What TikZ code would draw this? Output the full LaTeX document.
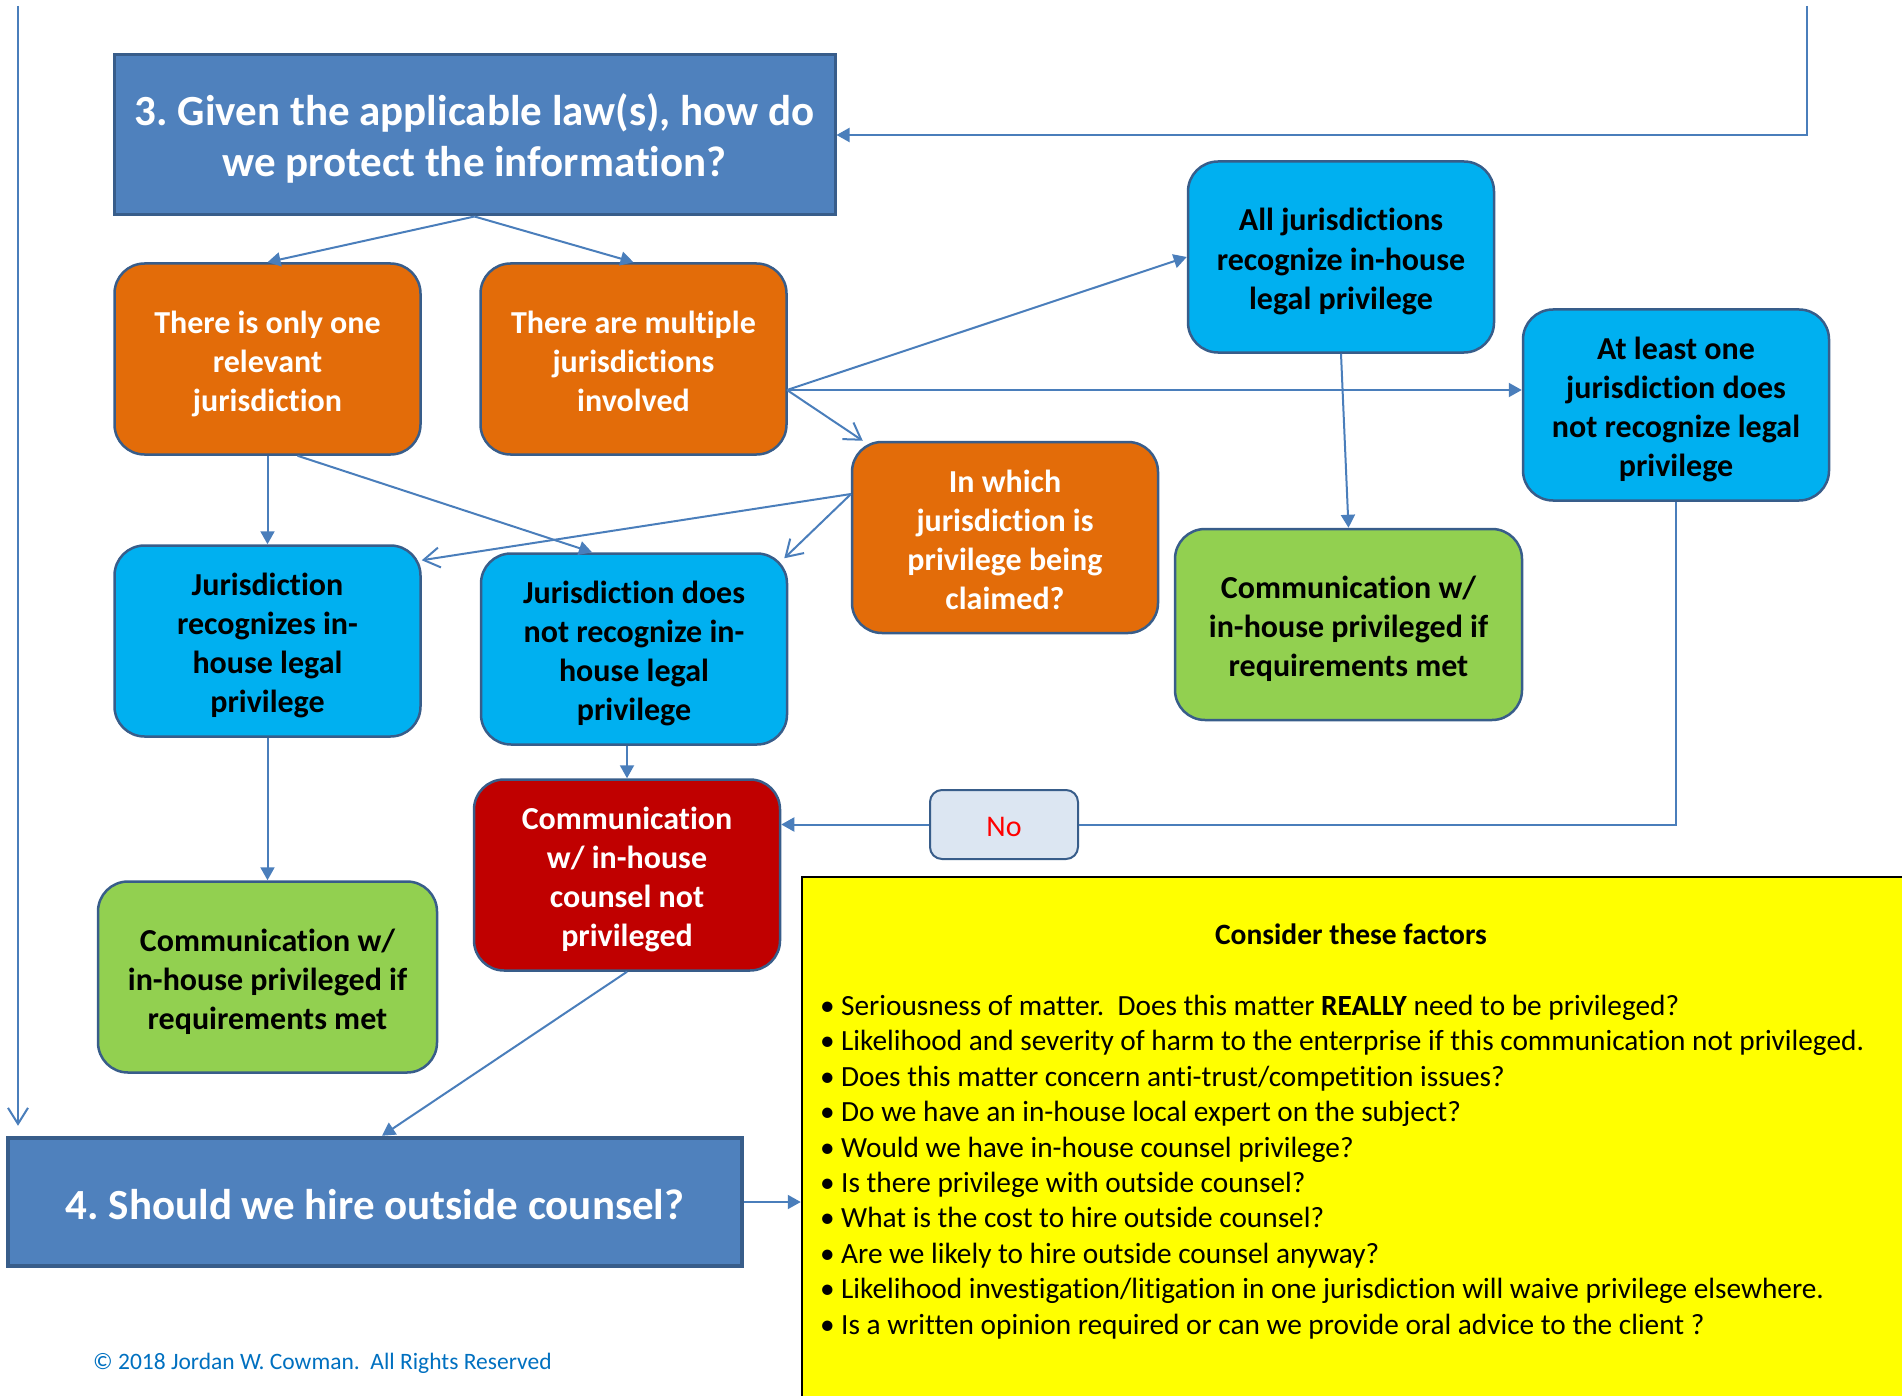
\documentclass[tikz,border=0pt]{standalone}
\usepackage{fontspec}
\setmainfont{Carlito}[Ligatures=NoCommon]
\usetikzlibrary{arrows.meta}
\definecolor{edge}{HTML}{385D8A}
\definecolor{head}{HTML}{4F81BD}
\definecolor{orng}{HTML}{E36C09}
\definecolor{cyn1}{HTML}{00B0F0}
\definecolor{grn1}{HTML}{92D050}
\definecolor{red1}{HTML}{C00000}
\definecolor{nofill}{HTML}{DCE6F2}
\definecolor{yel}{HTML}{FFFF00}
\definecolor{ln}{HTML}{4A7EBB}
\definecolor{cpy}{HTML}{0070C0}
\newcommand{\topst}[1]{\rule{0pt}{#1}}
\newcommand{\botst}[1]{\rule[-#1]{0pt}{#1}}

\begin{document}
\frenchspacing
\begin{tikzpicture}[x=1pt,y=-1pt,
  bx/.style={draw=edge,line width=2.5pt,rounded corners=30pt,minimum width=306pt,minimum height=191pt,inner sep=0pt,align=center,font=\fontsize{32}{39}\selectfont\bfseries},
  org/.style={bx,fill=orng,text=white},
  cyn/.style={bx,fill=cyn1,text=black},
  grn/.style={bx,fill=grn1,text=black},
  redb/.style={bx,fill=red1,text=white},
  hd/.style={draw=edge,line width=3pt,fill=head,text=white,inner sep=0pt,align=center,font=\fontsize{43}{51}\selectfont\bfseries},
  arr/.style={draw=ln,line width=2pt,-{Triangle[length=13pt,width=14pt]}},
  opn/.style={draw=ln,line width=2pt,-{Straight Barb[length=16pt,width=20pt]}}
]
  \useasboundingbox (0,0) rectangle (1902,1396);
  \node[hd,minimum width=721pt,minimum height=160pt] (q3) at (474.5,135) {\topst{41pt}3. Given the applicable law(s), how do\\we protect the information?\botst{9pt}};
  \node[org] (one) at (267.5,359) {\topst{33pt}There is only one\\relevant\\jurisdiction\botst{7pt}};
  \node[org] (multi) at (633.5,359) {\topst{33pt}There are multiple\\jurisdictions\\involved\botst{7pt}};
  \node[cyn] (all) at (1341,257) {\topst{33pt}All jurisdictions\\recognize in-house\\legal privilege\botst{7pt}};
  \node[cyn] (least) at (1676,405) {\topst{33pt}At least one\\jurisdiction does\\not recognize legal\\privilege\botst{7pt}};
  \node[org] (which) at (1005,537.5) {\topst{33pt}In which\\jurisdiction is\\privilege being\\claimed?\botst{7pt}};
  \node[grn,minimum width=347pt] (okR) at (1348.5,624.5) {\topst{33pt}Communication w/\\in-house privileged if\\requirements met\botst{7pt}};
  \node[cyn] (rec) at (267.5,641) {\topst{33pt}Jurisdiction\\recognizes in-\\house legal\\privilege\botst{7pt}};
  \node[cyn] (notrec) at (634,649) {\topst{33pt}Jurisdiction does\\not recognize in-\\house legal\\privilege\botst{7pt}};
  \node[redb] (notpriv) at (627,875) {\topst{33pt}Communication\\w/ in-house\\counsel not\\privileged\botst{7pt}};
  \node[bx,fill=nofill,text=red,minimum width=148pt,minimum height=69pt,rounded corners=12pt,line width=2pt,font=\fontsize{30}{36}\selectfont] (no) at (1004,824.5) {\topst{24pt}No};
  \node[grn,minimum width=339pt] (okL) at (267.5,977) {\topst{33pt}Communication w/\\in-house privileged if\\requirements met\botst{7pt}};
  \node[hd,line width=4.5pt,minimum width=734pt,minimum height=128pt] (q4) at (375,1202) {\topst{35pt}4. Should we hire outside counsel?};
  \node[draw=black,line width=2.5pt,fill=yel,minimum width=1110pt,minimum height=529pt,inner sep=0pt] (fac) at (1357,1141.5) {};
  \node[font=\fontsize{29.5}{35}\selectfont\bfseries] (ttl) at (1351,934) {Consider these factors};
  \node[anchor=north west,align=left,inner sep=0pt,font=\fontsize{29.3}{35.4}\selectfont] (lst) at (820,995) {%
    \makebox[21pt][l]{•}Seriousness of matter.\ \ Does this matter \textbf{REALLY} need to be privileged?\\
    \makebox[21pt][l]{•}Likelihood and severity of harm to the enterprise if this communication not privileged.\\
    \makebox[21pt][l]{•}Does this matter concern anti-trust/competition issues?\\
    \makebox[21pt][l]{•}Do we have an in-house local expert on the subject?\\
    \makebox[21pt][l]{•}Would we have in-house counsel privilege?\\
    \makebox[21pt][l]{•}Is there privilege with outside counsel?\\
    \makebox[21pt][l]{•}What is the cost to hire outside counsel?\\
    \makebox[21pt][l]{•}Are we likely to hire outside counsel anyway?\\
    \makebox[21pt][l]{•}Likelihood investigation/litigation in one jurisdiction will waive privilege elsewhere.\\
    \makebox[21pt][l]{•}Is a written opinion required or can we provide oral advice to the client ?};
  \node[anchor=west,text=cpy,inner sep=0pt,font=\fontsize{23.5}{28}\selectfont] (cr) at (93,1363) {© 2018 Jordan W. Cowman.\ \ All Rights Reserved};

  \coordinate (tl) at (18,6);
  \coordinate (tr) at (1807,6);
  \coordinate (mo) at (787,390);
  \coordinate (wl) at (851,494);
  \draw[opn,shorten >=10pt] (tl) -- (tl |- q4.north);
  \draw[arr] (tr) |- (q3.east);
  \draw[arr] (q3.south) -- (one.north);
  \draw[arr] (q3.south) -- (multi.north);
  \draw[arr] (mo) -- (all.west);
  \draw[arr] (mo) -- (mo -| least.west);
  \draw[opn] (mo) -- ([xshift=12pt]which.north west);
  \draw[arr] (one.south) -- (rec.north);
  \draw[arr] ([xshift=30pt]one.south) -- ([xshift=-42pt]notrec.north);
  \draw[opn] (wl) -- ([yshift=-16pt]rec.north east);
  \draw[opn] (wl) -- ([xshift=-4pt,yshift=-6pt]notrec.north east);
  \draw[arr] (all.south) -- (okR.north);
  \draw[draw=ln,line width=2pt] (least.south) |- (no.east);
  \draw[arr] (no.west) -- (no.west -| notpriv.east);
  \draw[arr] (notpriv.north |- notrec.south) -- (notpriv.north);
  \draw[arr] (rec.south) -- (okL.north);
  \draw[arr] (notpriv.south) -- ([xshift=7pt]q4.north);
  \draw[arr] (q4.east) -- (q4.east -| fac.west);
\end{tikzpicture}
\end{document}
